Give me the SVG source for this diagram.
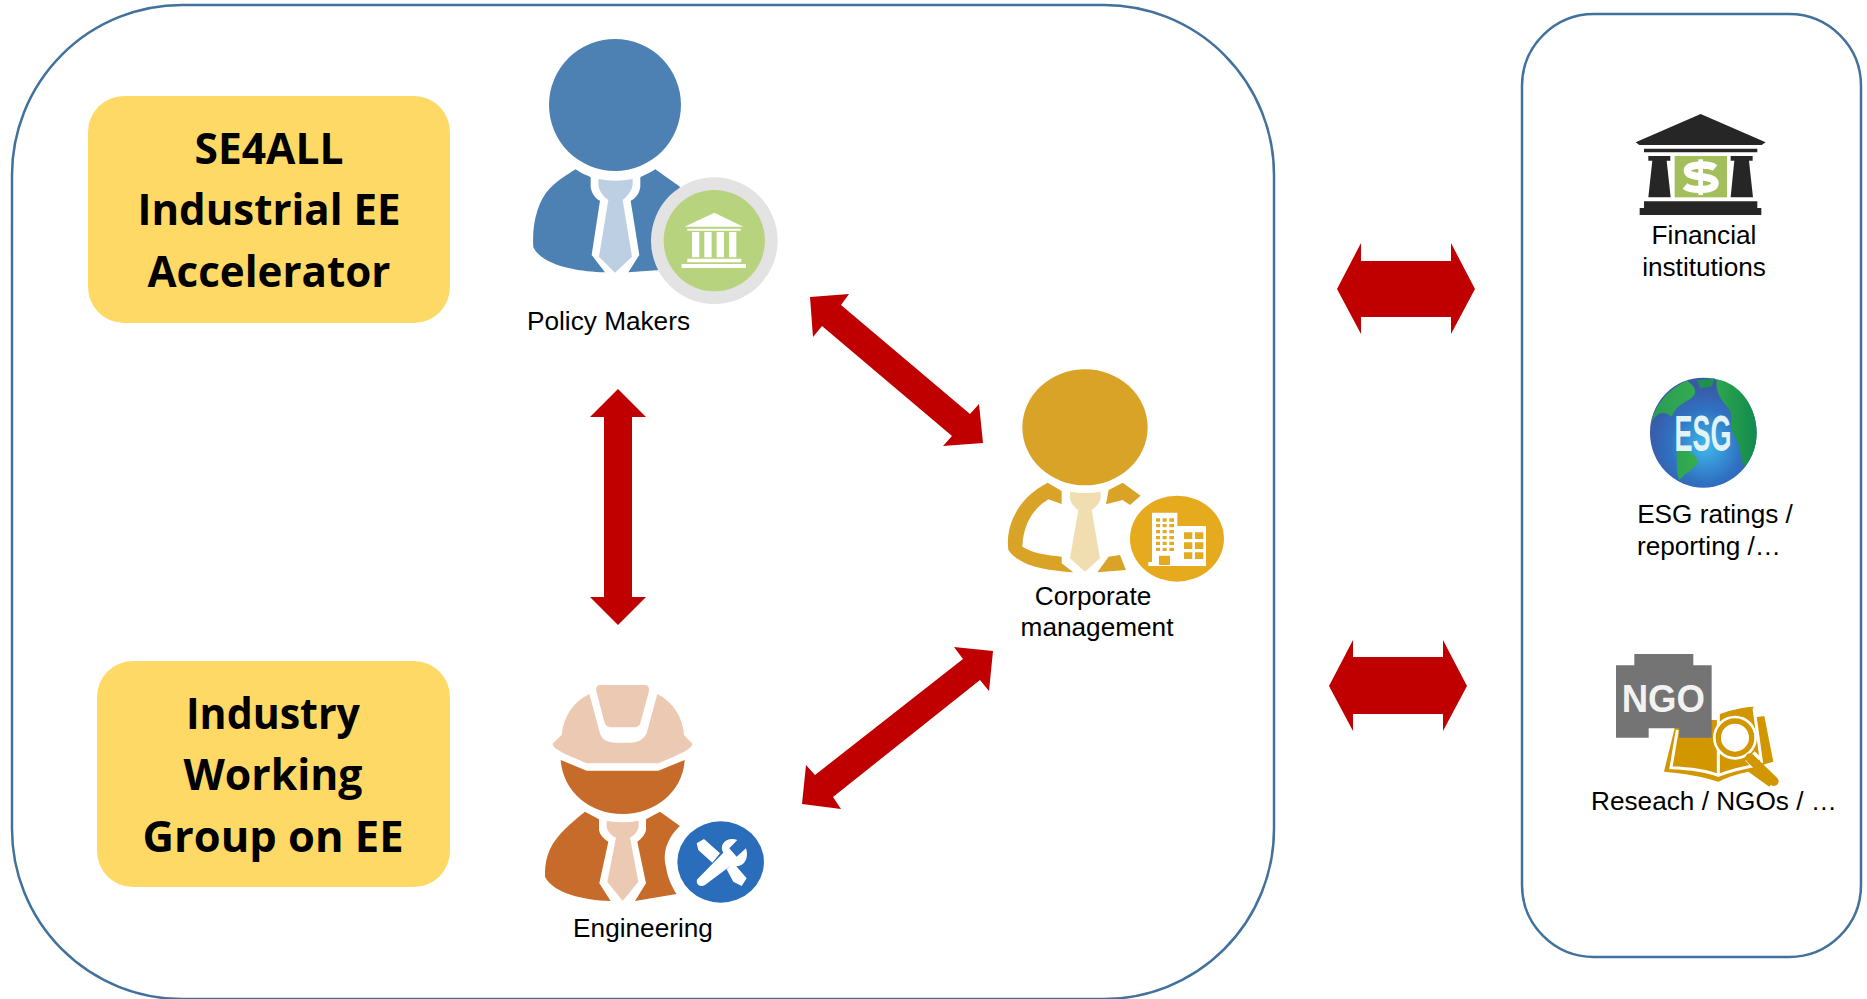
<svg xmlns="http://www.w3.org/2000/svg" width="1867" height="999" viewBox="0 0 1867 999">
<style>
.panel{fill:#fff;stroke:#41719c;stroke-width:2.500}
.box{fill:#ffd966}
.boxt{font:bold 43px "Open Sans",sans-serif;fill:#000;text-anchor:middle}
.lab{font:26.200px "Liberation Sans",Arial,sans-serif;fill:#000;text-anchor:middle}
.arr{fill:#c00000}
</style>
<defs>
<radialGradient id="globe" cx=".52" cy=".62" r=".55"><stop offset="0" stop-color="#3fb8ea"/><stop offset=".6" stop-color="#2f72c2"/><stop offset="1" stop-color="#3a58a6"/></radialGradient>
<linearGradient id="land" x1="0" y1="0" x2="1" y2="0"><stop offset="0" stop-color="#2a9a55"/><stop offset=".5" stop-color="#35b04d"/><stop offset="1" stop-color="#128a4e"/></linearGradient>
</defs>
<rect width="1867" height="999" fill="#fff"/>
<rect class="panel" x="12" y="5" width="1262" height="994" rx="170"/>
<rect class="panel" x="1522" y="14" width="339" height="943" rx="72"/>
<g id="se4all"><rect class="box" x="88" y="96" width="362" height="227" rx="36"/>
<text class="boxt" x="269" y="164" textLength="149" lengthAdjust="spacingAndGlyphs">SE4ALL</text><text class="boxt" x="269" y="225" textLength="263" lengthAdjust="spacingAndGlyphs">Industrial EE</text><text class="boxt" x="269" y="287" textLength="243" lengthAdjust="spacingAndGlyphs">Accelerator</text></g>
<g id="working-group"><rect class="box" x="97" y="661" width="353" height="226" rx="36"/>
<text class="boxt" x="273" y="729" textLength="174" lengthAdjust="spacingAndGlyphs">Industry</text><text class="boxt" x="273" y="790" textLength="179" lengthAdjust="spacingAndGlyphs">Working</text><text class="boxt" x="273" y="852" textLength="261" lengthAdjust="spacingAndGlyphs">Group on EE</text></g>
<g id="connectors">
<polygon class="arr" points="618,389 646,417 632,417 632,597 646,597 618,625 590,597 604,597 604,417 590,417"/>
<polygon class="arr" points="810,297 849,294 841,305 970,414 979,404 983,443 943,446 952,436 822,326 813,337"/>
<polygon class="arr" points="802,804 806,765 815,775 963,659 954,647 993,651 989,691 980,680 833,797 841,809"/>
<polygon class="arr" points="1337,289 1361,243 1361,261 1451,261 1451,243 1475,289 1451,334 1451,317 1361,317 1361,334"/>
<polygon class="arr" points="1329,686 1353,640 1353,657 1443,657 1443,640 1467,686 1443,731 1443,714 1353,714 1353,731"/>
</g>
<g id="policy-makers">
<g transform="translate(480 10) scale(.3333)">
<circle cx="405" cy="285" r="198" fill="#4d81b3"/>
<path fill="#4d81b3" d="M287 478C310 495 335 500 332 503V530C335 550 345 565 360 572L335 735L375 787C300 785 190 770 160 712C155 640 175 570 210 535C235 510 260 495 287 478ZM526 478C500 495 480 500 481 503V530C478 550 468 565 452 572L478 735L445 787L540 780L600 530Z"/>
<path fill="#bdd0e3" d="M355 507Q405 518 458 507V525C455 545 440 560 428 570L456 740L405 788L357 740L385 570C370 560 358 545 355 525Z"/>
<circle cx="703" cy="692" r="190" fill="#e3e3e3"/><circle cx="703" cy="692" r="152" fill="#b7d37d"/>
<path fill="#fff" d="M703 608L790 650H614ZM622 656H782V662H622ZM636 666H658V742H636ZM673 666H695V742H673ZM710 666H732V742H710ZM747 666H769V742H747ZM622 746H784V757H622ZM605 762H798V774H605Z"/>
</g>
<text class="lab" x="608.500" y="330">Policy Makers</text></g>
<g id="corporate-management">
<g transform="translate(980 350) scale(.3333)">
<ellipse cx="315" cy="232" rx="188" ry="174" fill="#d8a327"/>
<path fill="#d8a327" d="M203 398L245 423V462L205 448C170 470 130 510 127 590C160 610 200 615 245 620V640L280 667C200 662 120 650 85 600C75 520 120 440 203 398ZM428 398L482 437L450 465L428 450L378 463L386 420ZM386 620L420 615L438 660L352 667Z"/>
<path fill="#f1deb0" d="M270 425Q315 433 362 425V445C360 460 345 475 335 480L360 625L315 665L270 625L295 480C285 475 272 460 270 445Z"/>
<ellipse cx="591" cy="566" rx="141" ry="129" fill="#e6aa1e"/>
<path fill="#fff" fill-rule="evenodd" d="M516 488H592V528H678V648H505V636H516ZM528 505V515H540V505ZM548 505V515H560V505ZM568 505V515H582V505ZM528 522V532H540V522ZM548 522V532H560V522ZM568 522V532H582V522ZM528 540V550H540V540ZM548 540V550H560V540ZM568 540V550H582V540ZM528 558V568H540V558ZM548 558V568H560V558ZM568 558V568H582V558ZM528 575V585H540V575ZM548 575V585H560V575ZM568 575V585H582V575ZM528 593V603H540V593ZM548 593V603H560V593ZM568 593V603H582V593ZM537 617V645H570V617ZM612 547V567H637V547ZM645 547V567H670V547ZM612 577V597H637V577ZM645 577V597H670V577ZM612 607V627H637V607ZM645 607V627H670V607Z"/>
</g>
<text class="lab" x="1093" y="605">Corporate</text><text class="lab" x="1097" y="636">management</text></g>
<g id="engineering">
<g transform="translate(520 670) scale(.3333)">
<path fill="#ecc9b2" d="M208 72L240 190C245 210 265 218 285 218H330C355 218 372 208 380 190L412 72C465 100 490 150 492 195L518 222C510 240 490 248 415 280H200C130 250 105 240 97 222L125 195C130 140 160 95 208 72ZM240 45H375C385 45 390 55 386 67L362 155C358 170 350 172 340 172H275C262 172 256 165 253 155L230 67C226 55 230 45 240 45Z"/>
<path fill="#c76b2b" d="M122 270L200 302H415L494 270C490 360 410 432 308 432C205 432 128 360 122 270Z"/>
<path fill="#c76b2b" d="M195 425L237 448V480C240 495 250 505 265 515L238 640L272 693C190 690 100 670 75 620C75 540 100 500 195 425ZM420 425L480 468C450 495 425 540 438 590C442 620 455 650 470 672L345 693L378 640L352 515C365 505 375 495 378 480V448Z"/>
<path fill="#ecc9b2" d="M260 452Q308 462 356 452V470C354 485 340 498 330 503L355 635L308 693L262 635L288 503C276 498 262 485 260 470Z"/>
<ellipse cx="602" cy="576" rx="130" ry="122" fill="#2a6ebb"/>
<path fill="#fff" d="M530 520L552 507L600 550L577 578L535 540ZM620 598L640 578L680 625L665 648L640 635Z"/>
<path fill="#fff" d="M532 628L610 548C595 520 625 500 652 510L628 535L650 560L678 535C690 570 665 600 635 585L555 645C540 655 525 640 532 628Z"/>
</g>
<text class="lab" x="643" y="937">Engineering</text></g>
<g id="financial">
<g transform="translate(1600 100) scale(.3333)">
<path fill="#262626" d="M302 42L497 127L485 135H118L107 127ZM132 146H472V157H132ZM145 168H211V182H200L212 292H145L157 182H145ZM392 168H458V182H447L459 292H392L403 182H392ZM132 304H472V324H484V345H119V324H132Z"/>
<rect x="224" y="168" width="157" height="124" fill="#a3bf5c"/>
<path fill="none" stroke="#fff" stroke-width="22" d="M345 204C330 192 262 190 262 212C262 238 345 222 345 250C345 274 272 272 255 258"/><path stroke="#fff" stroke-width="14" d="M302 178V285"/>
</g>
<text class="lab" x="1704" y="244">Financial</text><text class="lab" x="1704" y="276">institutions</text></g>
<g id="esg">
<g transform="translate(1600 100) scale(.3333)">
<ellipse cx="310" cy="998" rx="160" ry="165" fill="url(#globe)"/>
<path fill="url(#land)" d="M350 838C420 850 470 920 470 1000C470 1040 455 1075 435 1100C420 1085 425 1040 405 1010C385 975 405 955 385 925C365 900 345 880 350 838ZM152 975C160 920 205 865 262 842C285 860 300 880 265 900C240 915 225 925 215 950C195 935 170 930 152 975ZM228 1050C250 1040 285 1060 295 1085C285 1105 255 1120 238 1140C225 1110 235 1080 228 1050Z"/>
<path fill="#1f8f55" d="M290 840L345 835L335 860L300 865Z"/>
</g>
<text x="1703" y="451" font-family="'Liberation Sans',sans-serif" font-weight="bold" font-size="50" fill="#e2f3f8" text-anchor="middle" textLength="57" lengthAdjust="spacingAndGlyphs">ESG</text>
<text class="lab" x="1715" y="523">ESG ratings /</text><text class="lab" x="1709" y="555">reporting /…</text></g>
<g id="research">
<g transform="translate(1580 630) scale(.3333)">
<path fill="#d19600" d="M252 425L290 270H412V250L420 252C450 240 490 232 520 230L527 262L553 258L580 395L530 410L585 450L568 470L505 425C470 432 440 442 415 455C370 440 310 430 252 425Z"/>
<path fill="none" stroke="#fff" stroke-width="9" d="M292 300L273 413C330 415 380 422 415 436C450 422 490 412 538 404M415 245V436M522 235L545 400"/>
<circle cx="465" cy="323" r="66" fill="#fff"/><circle cx="465" cy="323" r="50" fill="#fff" stroke="#d19600" stroke-width="16"/>
<path fill="none" stroke="#fff" stroke-width="40" d="M510 378L530 398"/>
<path stroke="#d19600" stroke-width="28" stroke-linecap="round" d="M510 384L582 454"/>
<path fill="#747474" d="M163 72H340V106H395V323H298V295H206V323H108V106H163Z"/>
<text x="250" y="245" font-family="'Liberation Sans',sans-serif" font-weight="bold" font-size="118" fill="#f2f2f2" text-anchor="middle" textLength="250" lengthAdjust="spacingAndGlyphs">NGO</text>
</g>
<text class="lab" x="1714" y="810">Reseach / NGOs / …</text></g>
</svg>
